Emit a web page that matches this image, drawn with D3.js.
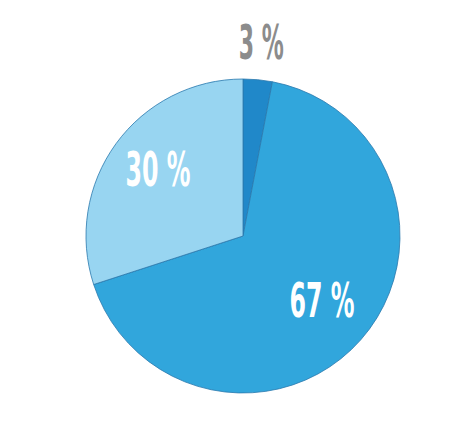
<!DOCTYPE html>
<html>
<head>
<meta charset="utf-8">
<script src="https://cdn.jsdelivr.net/npm/d3@7"></script>
<style>
html,body{margin:0;padding:0;background:#fff;}
svg{display:block;}
</style>
</head>
<body>
<svg id="chart" width="457" height="429"></svg>
<script>
const categories = ["A", "B", "C"];
const values = [3, 67, 30];
const labels = ["3 %", "67 %", "30 %"];
const colors = ["#2088c9", "#31a6dc", "#98d5f1"];
const labelColors = ["#8c8c8c", "#ffffff", "#ffffff"];

const svg = d3.select("#chart");
const cx = 243, cy = 236, r = 157;
const g = svg.append("g").attr("transform", `translate(${cx},${cy})`);

const pie = d3.pie().sort(null).value(d => d.v);
const data = pie(categories.map((c, i) => ({c, v: values[i], i})));
const arc = d3.arc().innerRadius(0).outerRadius(r);

g.selectAll("path.slice").data(data).enter().append("path")
  .attr("class", "slice")
  .attr("d", arc)
  .attr("fill", d => colors[d.data.i])
  .attr("stroke", "#2a78ad")
  .attr("stroke-width", 0.8)
  .attr("stroke-linejoin", "round");

const inner = d3.arc().innerRadius(r * 0.67).outerRadius(r * 0.67);
const outer = d3.arc().innerRadius(r * 1.24).outerRadius(r * 1.24);

g.selectAll("text.lbl").data(data).enter().append("text")
  .attr("class", "lbl")
  .attr("transform", d => {
    const p = (d.data.v < 10 ? outer : inner).centroid(d);
    return `translate(${p[0]},${p[1]})`;
  })
  .attr("text-anchor", "middle")
  .attr("dy", d => d.data.v < 10 ? "0.36em" : "0.24em")
  .attr("font-family", "'Liberation Sans Narrow', 'DejaVu Sans Condensed', sans-serif")
  .attr("font-weight", "bold")
  .attr("font-size", 48)
  .attr("fill", d => labelColors[d.data.i])
  .attr("textLength", d => labels[d.data.i].length === 3 ? 45 : 65)
  .attr("lengthAdjust", "spacingAndGlyphs")
  .text(d => labels[d.data.i]);
</script>
</body>
</html>
